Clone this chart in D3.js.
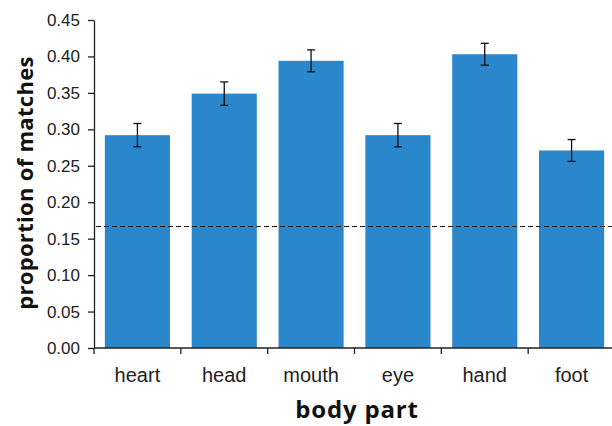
<!DOCTYPE html>
<html>
<head>
<meta charset="utf-8">
<script src="https://cdn.jsdelivr.net/npm/d3@7"></script>
<style>
  body { margin: 0; background: #fff; }
  svg { display: block; }
</style>
</head>
<body>
<div id="chart"></div>
<script>
// data
const parts = ['heart', 'head', 'mouth', 'eye', 'hand', 'foot'];
const proportions = [0.292, 0.349, 0.394, 0.292, 0.403, 0.271];
const errors = [0.016, 0.016, 0.015, 0.016, 0.015, 0.015];
const chanceLevel = 1 / 6;
const yTicks = [0, 0.05, 0.1, 0.15, 0.2, 0.25, 0.3, 0.35, 0.4, 0.45];

const width = 612;
const height = 426;
const margin = { top: 20, right: -3, bottom: 78, left: 94 };

const svg = d3.select('#chart')
  .append('svg')
  .attr('width', width)
  .attr('height', height);

const x = d3.scaleBand()
  .domain(parts)
  .range([margin.left, width - margin.right])
  .paddingInner(0.25)
  .paddingOuter(0.125);

const y = d3.scaleLinear()
  .domain([0, 0.45])
  .range([height - margin.bottom, margin.top]);

const barColor = '#2b87cb';
const inkColor = '#222';

// bars
svg.append('g')
  .selectAll('rect')
  .data(parts)
  .join('rect')
  .attr('x', (d) => x(d))
  .attr('y', (d, i) => y(proportions[i]))
  .attr('width', x.bandwidth())
  .attr('height', (d, i) => y(0) - y(proportions[i]))
  .attr('fill', barColor);

// error bars
const errG = svg.append('g')
  .attr('stroke', '#111')
  .attr('stroke-width', 1.3);
parts.forEach((p, i) => {
  const cx = x(p) + x.bandwidth() / 2;
  const hi = y(proportions[i] + errors[i]);
  const lo = y(proportions[i] - errors[i]);
  errG.append('line').attr('x1', cx).attr('x2', cx).attr('y1', hi).attr('y2', lo);
  errG.append('line').attr('x1', cx - 4).attr('x2', cx + 4).attr('y1', hi).attr('y2', hi);
  errG.append('line').attr('x1', cx - 4).attr('x2', cx + 4).attr('y1', lo).attr('y2', lo);
});

// chance level
svg.append('line')
  .attr('x1', margin.left + 2)
  .attr('x2', width)
  .attr('y1', y(chanceLevel))
  .attr('y2', y(chanceLevel))
  .attr('stroke', '#222')
  .attr('stroke-width', 1.2)
  .attr('stroke-dasharray', '5 3');

// y axis
const yAxisG = svg.append('g')
  .attr('transform', `translate(${margin.left},0)`)
  .call(d3.axisLeft(y).tickValues(yTicks).tickFormat(d3.format('.2f')).tickSize(6).tickSizeOuter(0).tickPadding(8));

// x axis: ticks sit between bands
const step = x.step();
const boundaries = d3.range(parts.length + 1).map((i) => margin.left + i * step);
const xAxisG = svg.append('g')
  .attr('transform', `translate(0,${y(0)})`);
xAxisG.append('line')
  .attr('x1', margin.left)
  .attr('x2', width)
  .attr('stroke', inkColor)
  .attr('stroke-width', 1.3);
xAxisG.selectAll('line.tick')
  .data(boundaries)
  .join('line')
  .attr('class', 'tick')
  .attr('x1', (d) => d)
  .attr('x2', (d) => d)
  .attr('y1', 0)
  .attr('y2', 6)
  .attr('stroke', inkColor)
  .attr('stroke-width', 1.3);
xAxisG.selectAll('text')
  .data(parts)
  .join('text')
  .attr('x', (d) => x(d) + x.bandwidth() / 2)
  .attr('y', 34)
  .attr('text-anchor', 'middle')
  .attr('fill', inkColor)
  .style('font-family', '"Liberation Sans", Arial, sans-serif')
  .style('font-size', '20px')
  .text((d) => d);

yAxisG.select('.domain').attr('stroke', inkColor).attr('stroke-width', 1.3);
yAxisG.selectAll('.tick line').attr('stroke', inkColor).attr('stroke-width', 1.3);
yAxisG.selectAll('.tick text')
  .attr('fill', inkColor)
  .style('font-family', '"Liberation Sans", Arial, sans-serif')
  .style('font-size', '17px');

// axis titles
svg.append('text')
  .attr('transform', `translate(33,183) rotate(-90)`)
  .attr('text-anchor', 'middle')
  .attr('fill', '#111')
  .style('font-family', '"Open Sans", sans-serif')
  .style('font-weight', 'bold')
  .style('font-size', '22px')
  .style('letter-spacing', '0.3px')
  .text('proportion of matches');

svg.append('text')
  .attr('x', 357)
  .attr('y', 418)
  .attr('text-anchor', 'middle')
  .attr('fill', '#111')
  .style('font-family', '"Open Sans", sans-serif')
  .style('font-weight', 'bold')
  .style('font-size', '24px')
  .style('letter-spacing', '0.8px')
  .text('body part');
</script>
</body>
</html>
